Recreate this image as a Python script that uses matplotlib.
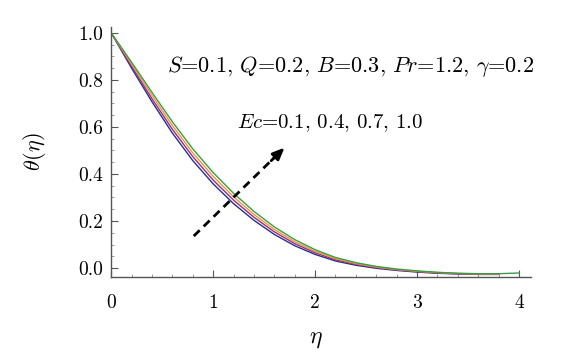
import numpy as np
import matplotlib
matplotlib.use("Agg")
import matplotlib.pyplot as plt
from matplotlib.ticker import MultipleLocator

plt.rcParams['mathtext.fontset'] = 'cm'
plt.rcParams['font.family'] = 'cmr10'
plt.rcParams['axes.formatter.use_mathtext'] = True

# eta grid and theta(eta) for Ec = 0.1, 0.4, 0.7, 1.0
eta = [0.0, 0.2, 0.4, 0.6, 0.8, 1.0, 1.2, 1.4, 1.6, 1.8, 2.0,
       2.2, 2.4, 2.6, 2.8, 3.0, 3.2, 3.4, 3.6, 3.8, 4.0]
theta_ec01 = [1.000, 0.850, 0.707, 0.574, 0.457, 0.358, 0.274, 0.203, 0.143, 0.095, 0.058,
              0.030, 0.012, -0.001, -0.010, -0.017, -0.022, -0.025, -0.027, -0.027]
theta_ec04 = [1.000, 0.858, 0.720, 0.590, 0.474, 0.374, 0.289, 0.216, 0.154, 0.104, 0.065,
              0.035, 0.016, 0.002, -0.008, -0.015, -0.021, -0.024, -0.026, -0.026]
theta_ec07 = [1.000, 0.867, 0.734, 0.606, 0.490, 0.390, 0.303, 0.228, 0.164, 0.112, 0.071,
              0.040, 0.019, 0.004, -0.006, -0.014, -0.019, -0.023, -0.025, -0.025]
theta_ec10 = [1.000, 0.875, 0.747, 0.622, 0.507, 0.406, 0.318, 0.241, 0.175, 0.121, 0.078,
              0.045, 0.023, 0.007, -0.004, -0.012, -0.018, -0.022, -0.024, -0.024, -0.021]

series = [theta_ec01, theta_ec04, theta_ec07, theta_ec10]
colors = ['#2e2a9c', '#a0305c', '#d8a040', '#3c9a4c']

fig = plt.figure(figsize=(5.7, 3.54), dpi=100)
ax = fig.add_axes([0.195, 0.2175, 0.737, 0.7065])

for vals, c in zip(series, colors):
    ax.plot(eta[:len(vals)], vals, color=c, lw=1.0)

# dashed arrow showing increasing Ec
tail = (0.81, 0.136)
head = (1.72, 0.52)
ax.plot([tail[0], 1.62], [tail[1], 0.478], color='black', lw=2, ls=(0, (3, 2)))
ax.annotate('', xy=head, xytext=(1.55, 0.448),
            arrowprops=dict(arrowstyle='-|>,head_length=0.7,head_width=0.3',
                            color='black', lw=2))

ax.text(0.55, 0.855, r'$S$=0.1, $Q$=0.2, $B$=0.3, $Pr$=1.2, $\gamma$=0.2',
        fontsize=16, va='center', ha='left')
ax.text(1.235, 0.617, r'$Ec$=0.1, 0.4, 0.7, 1.0', fontsize=15, va='center', ha='left')

ax.set_xlim(0, 4.12)
ax.set_ylim(-0.038, 1.025)
ax.xaxis.set_major_locator(MultipleLocator(1))
ax.xaxis.set_minor_locator(MultipleLocator(0.2))
ax.yaxis.set_major_locator(MultipleLocator(0.2))
ax.yaxis.set_minor_locator(MultipleLocator(0.05))
ax.xaxis.set_major_formatter(plt.FuncFormatter(lambda v, p: '%d' % v))
ax.yaxis.set_major_formatter(plt.FuncFormatter(lambda v, p: '%.1f' % v))

for s in ['top', 'right']:
    ax.spines[s].set_visible(False)
for s in ['left', 'bottom']:
    ax.spines[s].set_color('#555555')
    ax.spines[s].set_linewidth(1.0)
ax.tick_params(axis='x', which='major', direction='in', length=5, color='#555555',
               labelsize=14, pad=12)
ax.tick_params(axis='y', which='major', direction='in', length=5, color='#555555',
               labelsize=14, pad=6)
ax.tick_params(which='minor', direction='in', length=2.5, color='#888888')

ax.set_xlabel(r'$\eta$', fontsize=17)
ax.set_ylabel(r'$\theta(\eta)$', fontsize=16)
ax.xaxis.set_label_coords(0.488, -0.205)
ax.yaxis.set_label_coords(-0.15, 0.5)

fig.savefig('out.png', dpi=100)
